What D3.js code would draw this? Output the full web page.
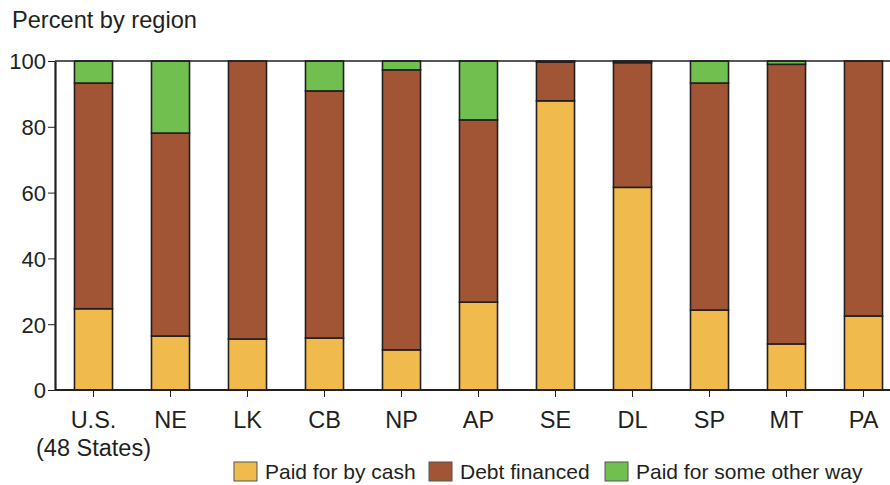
<!DOCTYPE html>
<html>
<head>
<meta charset="utf-8">
<script src="https://cdn.jsdelivr.net/npm/d3@7"></script>
<style>
  body { margin: 0; background: #fff; }
  svg { display: block; font-family: "Liberation Sans", Arial, sans-serif; }
</style>
</head>
<body>
<div id="chart"></div>
<script>
// regions on the x axis
var regions = ["U.S.", "NE", "LK", "CB", "NP", "AP", "SE", "DL", "SP", "MT", "PA"];
// percent of each region, per payment type
var cash  = [24.7, 16.4, 15.5, 15.8, 12.2, 26.7, 87.9, 61.6, 24.3, 14.0, 22.5];
var debt  = [68.6, 61.7, 84.5, 75.1, 85.1, 55.4, 11.8, 37.9, 69.0, 85.0, 77.5];
var other = [ 6.7, 21.9,  0.0,  9.1,  2.7, 17.9,  0.3,  0.5,  6.7,  1.0,  0.0];
var seriesNames = ["Paid for by cash", "Debt financed", "Paid for some other way"];
var colors = ["#F0BA4C", "#A25535", "#70BF4F"];
var yTicks = [0, 20, 40, 60, 80, 100];

var width = 890, height = 485;
var marginLeft = 55, marginTop = 61, axisBottom = 390;
var ink = "#231f20";

var svg = d3.select("#chart").append("svg")
    .attr("width", width)
    .attr("height", height);

// set the ranges
var x = d3.scaleBand()
    .domain(regions)
    .range([marginLeft, marginLeft + regions.length * 77])
    .paddingInner(0.506)
    .paddingOuter(0.253);
var y = d3.scaleLinear()
    .domain([0, 100])
    .range([axisBottom, marginTop]);

// build stack rows from the arrays
var rows = regions.map(function(r, i) {
    return { region: r, cash: cash[i], debt: debt[i], other: other[i] };
});
var stack = d3.stack().keys(["cash", "debt", "other"]);
var layers = stack(rows);

var g = svg.selectAll(".layer")
    .data(layers)
    .enter().append("g")
    .attr("class", "layer")
    .attr("fill", function(d, i) { return colors[i]; });

g.selectAll("rect")
    .data(function(d) { return d.filter(function(p) { return p[1] - p[0] > 0; }); })
    .enter().append("rect")
    .attr("x", function(d) { return x(d.data.region); })
    .attr("width", x.bandwidth())
    .attr("y", function(d) { return y(d[1]); })
    .attr("height", function(d) { return y(d[0]) - y(d[1]); })
    .attr("stroke", ink)
    .attr("stroke-width", 1.6);

// top frame line
svg.append("line")
    .attr("x1", marginLeft).attr("x2", width)
    .attr("y1", y(100)).attr("y2", y(100))
    .attr("stroke", ink)
    .attr("stroke-width", 1.5);

// y axis
var yAxis = svg.append("g")
    .attr("transform", "translate(" + marginLeft + ",0)")
    .call(d3.axisLeft(y).tickValues(yTicks).tickSize(7).tickSizeOuter(0));
yAxis.select(".domain").attr("stroke", ink).attr("stroke-width", 2.2);
yAxis.selectAll(".tick line").attr("stroke", ink).attr("stroke-width", 1);
yAxis.selectAll(".tick text")
    .attr("x", -9)
    .attr("dy", "0.36em")
    .attr("fill", ink)
    .style("font-size", "22px")
    .style("font-family", "Liberation Sans, Arial, sans-serif");

// x axis
var xAxis = svg.append("g")
    .attr("transform", "translate(0," + axisBottom + ")")
    .call(d3.axisBottom(x).tickSize(7).tickSizeOuter(0));
xAxis.select(".domain")
    .attr("d", "M" + marginLeft + ",0H" + width)
    .attr("stroke", ink).attr("stroke-width", 2.2);
xAxis.selectAll(".tick line").attr("stroke", ink).attr("stroke-width", 1);
xAxis.selectAll(".tick text").remove();
xAxis.selectAll(".tick").append("text")
    .attr("y", 38)
    .attr("text-anchor", "middle")
    .attr("fill", ink)
    .style("font-size", "23.5px")
    .style("font-family", "Liberation Sans, Arial, sans-serif")
    .text(function(d) { return d; });
xAxis.select(".tick").append("text")
    .attr("y", 66)
    .attr("text-anchor", "middle")
    .attr("fill", ink)
    .style("font-size", "23.5px")
    .style("font-family", "Liberation Sans, Arial, sans-serif")
    .text("(48 States)");

// title
svg.append("text")
    .attr("x", 12)
    .attr("y", 28)
    .attr("fill", ink)
    .style("font-size", "23.6px")
    .text("Percent by region");

// legend
var legendX = [234, 429, 605];
var legend = svg.selectAll(".legend")
    .data(seriesNames)
    .enter().append("g")
    .attr("class", "legend")
    .attr("transform", function(d, i) { return "translate(" + legendX[i] + ",462)"; });
legend.append("rect")
    .attr("width", 23)
    .attr("height", 19)
    .attr("fill", function(d, i) { return colors[i]; })
    .attr("stroke", "#555")
    .attr("stroke-width", 1);
legend.append("text")
    .attr("x", 31)
    .attr("y", 17)
    .attr("fill", ink)
    .style("font-size", "21px")
    .text(function(d) { return d; });
</script>
</body>
</html>
